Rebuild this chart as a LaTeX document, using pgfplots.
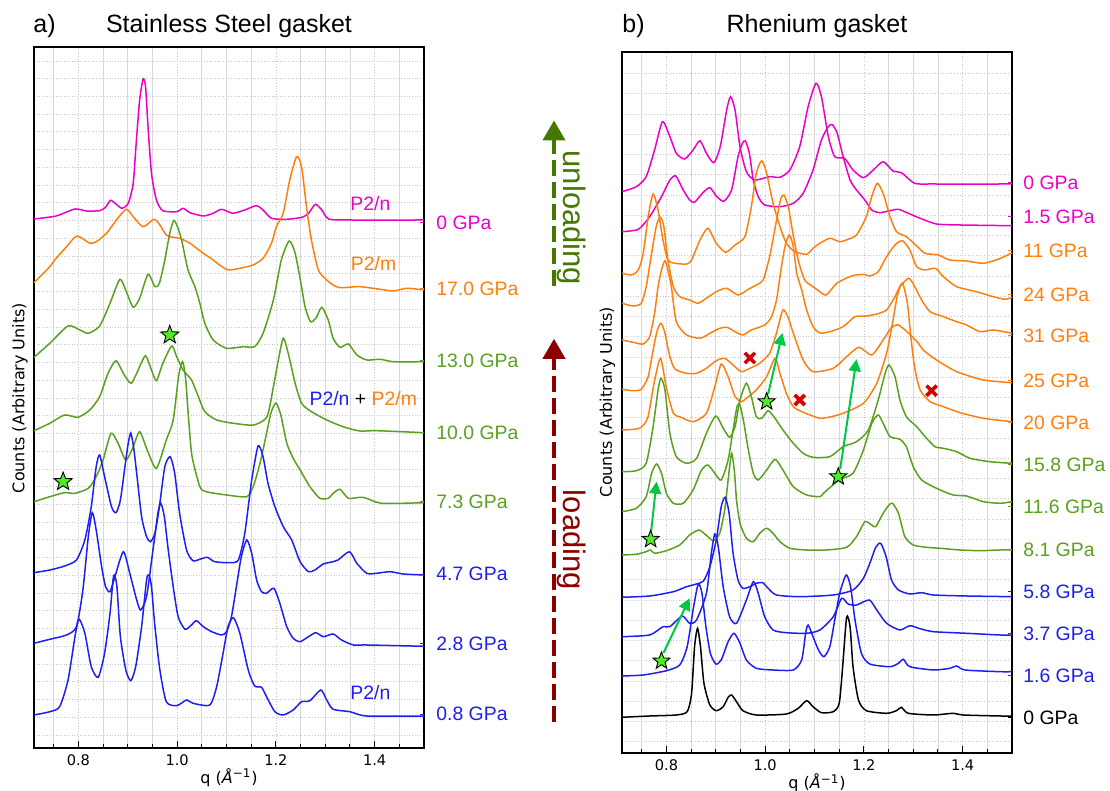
\documentclass[border=0pt]{standalone}
\usepackage{fontspec}
\setmainfont{Liberation Sans}
\newfontfamily\dejavu{DejaVu Sans}
\usepackage{pgfplots}
\pgfplotsset{compat=1.18}
\usetikzlibrary{arrows.meta}

\definecolor{mag}{RGB}{235,0,200}
\definecolor{org}{RGB}{255,127,14}
\definecolor{grn}{RGB}{90,160,30}
\definecolor{blu}{RGB}{30,30,240}
\definecolor{dgreen}{RGB}{70,120,0}
\definecolor{dred}{RGB}{139,0,0}
\definecolor{lime}{RGB}{80,235,40}
\definecolor{arrg}{RGB}{0,200,70}
\definecolor{xred}{RGB}{215,0,0}

\newcommand{\lab}{\fontsize{9.7}{11}\selectfont}
\newcommand{\ttl}{\fontsize{12.5}{14}\selectfont}
\newcommand{\axl}{\dejavu\fontsize{8}{9.5}\selectfont}

% filled five-pointed star marker
\pgfdeclareplotmark{fstar}{%
  \pgfpathmoveto{\pgfpointpolar{90}{\pgfplotmarksize}}%
  \pgfpathlineto{\pgfpointpolar{126}{0.42\pgfplotmarksize}}%
  \pgfpathlineto{\pgfpointpolar{162}{\pgfplotmarksize}}%
  \pgfpathlineto{\pgfpointpolar{198}{0.42\pgfplotmarksize}}%
  \pgfpathlineto{\pgfpointpolar{234}{\pgfplotmarksize}}%
  \pgfpathlineto{\pgfpointpolar{270}{0.42\pgfplotmarksize}}%
  \pgfpathlineto{\pgfpointpolar{306}{\pgfplotmarksize}}%
  \pgfpathlineto{\pgfpointpolar{342}{0.42\pgfplotmarksize}}%
  \pgfpathlineto{\pgfpointpolar{18}{\pgfplotmarksize}}%
  \pgfpathlineto{\pgfpointpolar{54}{0.42\pgfplotmarksize}}%
  \pgfpathclose
  \pgfusepathqfillstroke}

% pressure label with a short coloured tick on the right frame
\newcommand{\plab}[4]{%
  \draw[#1,line width=0.5pt] (axis cs:1.5,#2) -- ++(-2pt,0pt);
  \node[anchor=west,text=#1,font=\lab,inner sep=0pt,xshift=#4] at (axis cs:1.5,#2) {#3};}

\pgfplotsset{
  panel/.style={
    scale only axis, width=195pt, height=350.5pt, anchor=south west,
    xmin=0.71, xmax=1.5, ymin=0, ymax=701,
    xtick={0.8,1.0,1.2,1.4}, xticklabels={0.8,1.0,1.2,1.4},
    minor xtick={0.75,0.85,0.9,0.95,1.05,1.1,1.15,1.25,1.3,1.35,1.45},
    yticklabels={},
    tick align=inside, xtick pos=bottom, ytick pos=left,
    major tick length=3.5pt, minor tick length=2pt,
    ytick style={draw=none},
    grid=both,
    major grid style={gray!45, line width=0.35pt, densely dotted},
    minor grid style={gray!30, line width=0.35pt},
    axis line style={line width=1pt},
    tick style={black, line width=0.5pt},
    xticklabel style={font=\dejavu\fontsize{7.3}{8.5}\selectfont},
    clip=false,
  },
  cv/.style={line width=0.75pt, smooth, tension=0.4, mark=none},
  starm/.style={only marks, mark=fstar, mark size=4.8pt,
    mark options={fill=lime, draw=black, line width=0.45pt}},
  crossm/.style={only marks, mark=x, mark size=3.6pt,
    mark options={draw=xred, line width=1.8pt}},
  garrow/.style={arrg, line width=1pt, mark=none, -{Triangle[length=6pt,width=6pt]}},
}

\begin{document}
\begin{tikzpicture}
\useasboundingbox (0pt,0pt) rectangle (555pt,395.5pt);

% ---------------- panel a: stainless steel gasket ----------------
\begin{axis}[panel, at={(17pt,21.5pt)}, ytick={13,30.74,...,690}]
% 0 GPa (released)
\addplot[mag,cv] coordinates {(0.71,529) (0.755,532) (0.793,539) (0.816,537) (0.843,537.3) (0.855,540.7) (0.865,547.7) (0.876,544) (0.888,539.7) (0.901,544.7) (0.911,564.7) (0.917,604.7) (0.924,648) (0.931,669) (0.936,661.3) (0.941,621.3) (0.948,574.7) (0.958,548) (0.971,537.3) (0.999,536.3) (1.012,539.7) (1.026,535.3) (1.053,532) (1.073,534.7) (1.09,538.7) (1.113,534.7) (1.137,538) (1.16,542.3) (1.174,538) (1.191,529.7) (1.222,528.7) (1.253,530.7) (1.266,534.7) (1.28,543.7) (1.293,538) (1.307,529) (1.35,528) (1.5,528)};
% 17.0 GPa
\addplot[org,cv] coordinates {(0.71,465.3) (0.742,481.3) (0.752,488) (0.776,501.3) (0.797,512) (0.823,504.7) (0.836,506.3) (0.857,514.7) (0.877,528) (0.897,538.7) (0.911,531.3) (0.931,521.3) (0.953,528.7) (0.965,523) (0.978,513) (0.992,510.7) (1.005,509.7) (1.026,504.7) (1.053,494.7) (1.073,488) (1.086,483) (1.103,478) (1.127,479.7) (1.154,483) (1.174,489.7) (1.191,504.7) (1.201,521.3) (1.215,535) (1.228,568) (1.242,591.3) (1.252,581.3) (1.262,541.3) (1.272,508) (1.286,478) (1.303,468) (1.316,463) (1.33,460.3) (1.37,461.3) (1.411,458.7) (1.438,457) (1.465,459.7) (1.5,458)};
% 13.0 GPa
\addplot[grn,cv] coordinates {(0.71,390.7) (0.742,404.7) (0.779,422) (0.803,418) (0.82,414.7) (0.843,422) (0.864,444.7) (0.884,468.7) (0.897,456.3) (0.911,440.7) (0.924,449.7) (0.941,473.7) (0.955,461.3) (0.964,464.7) (0.975,488) (0.985,514.7) (0.993,527.5) (1.0,522) (1.009,508) (1.022,478) (1.036,461.3) (1.046,444.7) (1.056,424.7) (1.073,408) (1.1,399.7) (1.134,401.3) (1.157,401.3) (1.174,414.7) (1.195,448) (1.211,488) (1.227,507) (1.239,494.7) (1.252,461.3) (1.259,441.3) (1.27,426.3) (1.281,429.7) (1.293,440.7) (1.306,428) (1.316,409.7) (1.33,400.7) (1.347,404) (1.364,393) (1.384,388) (1.411,388.7) (1.438,386.3) (1.5,386.3)};
% 10.0 GPa
\addplot[grn,cv] coordinates {(0.71,317.3) (0.742,324.7) (0.772,333) (0.799,330.7) (0.823,338) (0.843,351.3) (0.86,374.7) (0.876,387.3) (0.891,374.7) (0.907,364.7) (0.924,381.3) (0.936,392.3) (0.948,378) (0.958,367.3) (0.971,384.7) (0.989,402) (0.999,391.3) (1.012,378) (1.029,368) (1.043,351.3) (1.056,336.3) (1.08,328) (1.114,324.7) (1.155,323) (1.182,331.3) (1.195,361.3) (1.205,388) (1.215,409.7) (1.225,394.7) (1.239,364.7) (1.252,344.7) (1.272,336.3) (1.303,328) (1.336,321.3) (1.37,317) (1.404,317.3) (1.5,315.3)};
% 7.3 GPa
\addplot[grn,cv] coordinates {(0.71,246.3) (0.742,251.3) (0.772,255.3) (0.793,254.7) (0.82,259.7) (0.836,271.3) (0.85,288) (0.866,314.7) (0.88,305) (0.896,288) (0.91,300) (0.924,316.3) (0.94,297) (0.958,279.7) (0.978,308) (0.992,328) (1.003,372) (1.011,386.3) (1.017,370) (1.023,330) (1.03,292) (1.046,261.3) (1.059,256.3) (1.1,253) (1.141,251.3) (1.154,261.3) (1.168,285) (1.18,312) (1.19,335) (1.2,345) (1.21,333) (1.222,305) (1.235,289.7) (1.249,278) (1.269,261.3) (1.289,249.7) (1.306,249.7) (1.316,254.7) (1.33,258.7) (1.347,249.7) (1.377,250.7) (1.414,244.7) (1.5,245.3)};
% 4.7 GPa
\addplot[blu,cv] coordinates {(0.71,175.3) (0.742,178) (0.772,182) (0.796,188) (0.813,208) (0.826,241.3) (0.836,281.3) (0.843,293) (0.853,271.3) (0.867,241.3) (0.876,235.3) (0.885,248) (0.896,288) (0.901,305) (0.906,315) (0.912,300) (0.918,274.7) (0.928,231.3) (0.938,211.3) (0.946,206.3) (0.955,214.7) (0.964,241.3) (0.975,281.3) (0.986,291.3) (0.995,274.7) (1.005,234.7) (1.019,198) (1.032,187.3) (1.046,188.7) (1.061,190.7) (1.076,186.3) (1.107,185.3) (1.124,188) (1.137,214.7) (1.151,268) (1.164,302) (1.174,291.3) (1.184,264.7) (1.198,241.3) (1.215,221.3) (1.232,208) (1.249,186.3) (1.266,176.3) (1.279,178) (1.296,184) (1.316,186.3) (1.326,188) (1.349,196.3) (1.364,184.7) (1.384,174.7) (1.404,174.7) (1.431,176.3) (1.458,174) (1.5,173)};
% 2.8 GPa
\addplot[blu,cv] coordinates {(0.71,104.7) (0.742,108.7) (0.776,113) (0.796,121.3) (0.809,158) (0.82,211.3) (0.828,235.3) (0.836,218) (0.847,181.3) (0.855,161.3) (0.864,156.3) (0.874,171.3) (0.891,196.3) (0.904,174.7) (0.918,148) (0.926,138) (0.938,151.3) (0.951,198) (0.961,234.7) (0.967,244.7) (0.974,231.3) (0.982,198) (0.992,161.3) (1.002,131.3) (1.016,118.7) (1.029,123) (1.039,127.3) (1.053,121.3) (1.07,116.3) (1.09,113) (1.1,116.3) (1.11,131.3) (1.12,161.3) (1.13,191.3) (1.141,208) (1.151,194.7) (1.161,168) (1.171,156.3) (1.181,154.7) (1.196,159.7) (1.208,144.7) (1.222,121.3) (1.235,109.7) (1.249,106.3) (1.266,111.3) (1.281,115.3) (1.296,111.3) (1.316,114) (1.333,108) (1.357,103) (1.384,103) (1.5,101.7)};
% 0.8 GPa
\addplot[blu,cv] coordinates {(0.71,33) (0.742,36.3) (0.762,41.3) (0.779,68) (0.793,111.3) (0.801,129) (0.813,114.7) (0.826,81.3) (0.84,70.7) (0.853,94.7) (0.864,134.7) (0.87,168) (0.873,173) (0.878,161.3) (0.885,111.3) (0.896,78) (0.906,67.3) (0.916,81.3) (0.928,121.3) (0.938,168) (0.943,173) (0.948,161.3) (0.955,121.3) (0.965,78) (0.978,46.3) (0.999,42.3) (1.019,48) (1.032,44.7) (1.066,43) (1.08,61.3) (1.093,94.7) (1.103,121.3) (1.114,130.3) (1.127,114.7) (1.144,78) (1.157,62) (1.171,60.7) (1.181,51.3) (1.198,36.3) (1.215,33) (1.235,38) (1.252,46.3) (1.269,47.3) (1.291,58) (1.303,48) (1.316,38.7) (1.35,36.3) (1.384,32) (1.5,32)};
% new reflections
\addplot[starm] coordinates {(0.985,413) (0.769,266.3)};
% phase labels
\node[text=mag,font=\lab] at (axis cs:1.3915,544) {P2/n};
\node[text=org,font=\lab] at (axis cs:1.398,484) {P2/m};
\node[font=\lab] at (axis cs:1.377,349) {\textcolor{blu}{P2/n} + \textcolor{org}{P2/m}};
\node[text=blu,font=\lab] at (axis cs:1.3915,55.5) {P2/n};
% pressures
\plab{mag}{525.6}{0 GPa}{6pt}
\plab{org}{459.4}{17.0 GPa}{6pt}
\plab{grn}{387}{13.0 GPa}{6pt}
\plab{grn}{315.3}{10.0 GPa}{6pt}
\plab{grn}{246}{7.3 GPa}{6pt}
\plab{blu}{173.7}{4.7 GPa}{6pt}
\plab{blu}{104}{2.8 GPa}{6pt}
\plab{blu}{33.7}{0.8 GPa}{6pt}
\end{axis}

% ---------------- panel b: rhenium gasket ----------------
\begin{axis}[panel, at={(311pt,19pt)}, ytick={11.3,31.55,...,681}]
% 0 GPa (released)
\addplot[mag,cv] coordinates {(0.71,561.3) (0.739,566.3) (0.759,576.3) (0.776,603) (0.792,631.3) (0.807,616.3) (0.82,599.7) (0.837,594) (0.854,603) (0.868,612.3) (0.881,599.7) (0.896,590.3) (0.909,606.3) (0.922,643) (0.93,656.3) (0.939,643) (0.949,606.3) (0.962,581.3) (0.979,573) (1.009,576.3) (1.03,575.7) (1.05,583) (1.07,606.3) (1.087,646.3) (1.103,669.7) (1.114,656.3) (1.128,616.3) (1.141,596.3) (1.161,594.7) (1.178,583) (1.199,575.3) (1.219,583) (1.239,591.3) (1.259,582) (1.276,580.3) (1.303,569.7) (1.341,569) (1.5,569)};
% 1.5 GPa
\addplot[mag,cv] coordinates {(0.71,521.3) (0.743,523.7) (0.766,536.3) (0.79,556.3) (0.807,573) (0.819,577) (0.834,563) (0.847,553) (0.857,550.7) (0.874,560.3) (0.888,565.3) (0.901,557) (0.916,551.7) (0.932,563) (0.945,596.3) (0.954,609.7) (0.96,612) (0.968,599.7) (0.976,573) (0.986,556.3) (0.999,548) (1.03,546.3) (1.057,549.7) (1.077,559.7) (1.097,583) (1.114,613) (1.128,626.3) (1.136,628.3) (1.146,619.7) (1.158,596.3) (1.172,573) (1.185,563) (1.202,553) (1.216,543) (1.232,540.3) (1.253,542.3) (1.27,543.7) (1.29,539.7) (1.314,534.7) (1.347,529) (1.395,528) (1.5,527.3)};
% 11 GPa
\addplot[org,cv] coordinates {(0.71,479.7) (0.729,478) (0.743,483) (0.753,499.7) (0.763,536.3) (0.773,559) (0.783,543) (0.793,513) (0.803,493) (0.817,489.7) (0.841,489) (0.851,493) (0.868,513) (0.884,524.7) (0.901,509.7) (0.92,500.7) (0.939,508) (0.959,516.3) (0.972,546.3) (0.982,579.7) (0.993,592.3) (1.003,579.7) (1.016,549.7) (1.03,526.3) (1.043,509.7) (1.06,501.3) (1.084,498.7) (1.097,504.7) (1.111,509.7) (1.131,514.7) (1.151,511.3) (1.168,513.7) (1.185,518) (1.205,536.3) (1.215,555) (1.227,569.7) (1.239,559.7) (1.253,536.3) (1.266,521.3) (1.286,516.3) (1.307,507) (1.324,499.7) (1.351,498) (1.374,493) (1.408,492) (1.442,489.7) (1.472,493.7) (1.5,500)};
% 24 GPa
\addplot[org,cv] coordinates {(0.71,449.7) (0.732,447) (0.749,449.7) (0.759,466.3) (0.77,499.7) (0.78,528) (0.788,535.7) (0.795,525.7) (0.803,493) (0.814,466.3) (0.827,456.3) (0.847,453) (0.864,449.7) (0.881,454.7) (0.901,461.3) (0.922,464.7) (0.945,458) (0.966,463.7) (0.982,468) (0.996,473) (1.009,496.3) (1.022,529.7) (1.031,553) (1.038,558) (1.047,546.3) (1.055,523) (1.067,493) (1.08,473) (1.097,466.3) (1.111,461.3) (1.124,458) (1.145,469.7) (1.175,477) (1.199,478.7) (1.212,477) (1.229,481.3) (1.246,496.3) (1.263,508) (1.278,512.3) (1.293,503) (1.307,486.3) (1.324,483) (1.345,484.7) (1.361,476.3) (1.388,466.3) (1.428,461.3) (1.462,456.3) (1.486,453.7) (1.5,455.7)};
% 31 GPa
\addplot[org,cv] coordinates {(0.71,413) (0.736,410.3) (0.753,409) (0.766,416.3) (0.776,439.7) (0.783,466.3) (0.79,483) (0.797,492.3) (0.803,483) (0.81,466.3) (0.82,431.3) (0.841,418) (0.868,414.7) (0.888,419.7) (0.908,424.7) (0.923,425.7) (0.939,421.3) (0.955,418) (0.972,423) (0.999,428) (1.013,436.3) (1.023,453) (1.031,479.7) (1.04,506.3) (1.049,518) (1.057,506.3) (1.064,479.7) (1.074,463) (1.084,443) (1.097,426.3) (1.111,420) (1.131,421.3) (1.158,426.3) (1.182,436.3) (1.205,437) (1.226,439) (1.246,443) (1.263,456.3) (1.273,466.3) (1.291,474.7) (1.303,466.3) (1.317,453) (1.334,441.3) (1.361,436.3) (1.388,431.3) (1.408,428) (1.435,421.3) (1.462,423) (1.5,419.7)};
% 25 GPa
\addplot[org,cv] coordinates {(0.71,363.7) (0.732,362.3) (0.749,363.7) (0.763,376.3) (0.772,400) (0.781,422) (0.789,429.7) (0.797,420) (0.806,398) (0.817,384) (0.841,379.7) (0.861,379.7) (0.881,384.7) (0.901,392.3) (0.918,394.7) (0.935,388) (0.952,381.3) (0.969,384.7) (0.989,389.7) (1.009,399.7) (1.023,420) (1.036,443) (1.047,435) (1.057,419.7) (1.077,393) (1.097,381.3) (1.138,384.7) (1.165,396.3) (1.19,405.7) (1.216,398) (1.239,413) (1.255,425) (1.27,428) (1.29,420) (1.31,410) (1.32,403) (1.347,393) (1.388,381.3) (1.442,373) (1.5,370.3)};
% 20 GPa
\addplot[org,cv] coordinates {(0.71,323) (0.745,324.7) (0.762,335) (0.775,370) (0.788,394.7) (0.8,365) (0.814,339.7) (0.827,336.3) (0.854,331.3) (0.881,339.7) (0.898,366.3) (0.911,389) (0.925,376.3) (0.939,356.3) (0.952,351.3) (0.962,354.7) (0.982,363) (1.003,376.3) (1.02,394.7) (1.03,379.7) (1.043,359.7) (1.057,346.3) (1.074,341.3) (1.091,338) (1.111,334.7) (1.131,336) (1.158,339.7) (1.199,349.7) (1.226,369.7) (1.246,399.7) (1.258,430) (1.268,458) (1.278,470) (1.288,450) (1.296,412) (1.303,385) (1.314,363) (1.334,351.3) (1.361,346.3) (1.395,340.3) (1.442,334.7) (1.5,331.3)};
% 15.8 GPa
\addplot[grn,cv] coordinates {(0.71,281.3) (0.739,282.3) (0.759,289.7) (0.773,326.3) (0.783,363) (0.789,374.7) (0.797,363) (0.807,319.7) (0.82,296.3) (0.841,289.7) (0.861,294.7) (0.881,319.7) (0.9,337) (0.915,324.7) (0.928,315.7) (0.939,326.3) (0.949,353) (0.962,369.7) (0.972,356.3) (0.982,336.3) (0.993,334.7) (1.006,342.3) (1.02,334.7) (1.036,323) (1.057,309.7) (1.077,299.7) (1.097,295.7) (1.131,296.3) (1.158,306.3) (1.185,311.3) (1.209,323) (1.229,353) (1.243,379.7) (1.251,388) (1.263,376.3) (1.273,353) (1.286,336.3) (1.307,326.3) (1.324,316.3) (1.344,306.3) (1.361,304.7) (1.388,301.3) (1.415,294.7) (1.455,291.3) (1.5,289.7)};
% 11.6 GPa
\addplot[grn,cv] coordinates {(0.71,241.3) (0.739,244.7) (0.759,256.3) (0.77,279.7) (0.78,289) (0.79,279.7) (0.8,259.7) (0.814,249.7) (0.834,249.7) (0.854,263) (0.871,283) (0.884,288) (0.898,279.7) (0.911,273) (0.925,293) (0.935,323) (0.943,346.3) (0.949,348) (0.957,329.7) (0.966,303) (0.976,279.7) (0.986,273) (1.003,283) (1.02,293.7) (1.036,283) (1.057,266.3) (1.084,258) (1.111,256.3) (1.118,259.7) (1.15,273) (1.178,279.7) (1.199,303) (1.216,329.7) (1.229,338) (1.239,329.7) (1.253,316.3) (1.273,313.7) (1.286,306.3) (1.3,286.3) (1.317,273) (1.347,264.7) (1.381,258) (1.408,257) (1.442,251.3) (1.476,249.7) (1.5,251.3)};
% 8.1 GPa
\addplot[grn,cv] coordinates {(0.71,198) (0.739,198.7) (0.759,201.3) (0.768,203) (0.776,199.7) (0.8,202.3) (0.827,208) (0.847,218) (0.866,223) (0.88,218) (0.895,212.3) (0.908,219.7) (0.918,243) (0.925,273) (0.932,299.7) (0.938,280) (0.942,253) (0.949,229.7) (0.962,214.7) (0.976,211.3) (0.989,219.7) (1.003,224.7) (1.016,219.7) (1.03,211.3) (1.05,204.7) (1.084,203) (1.124,203) (1.165,205.7) (1.185,216.3) (1.202,231.3) (1.216,228) (1.224,226.3) (1.239,239.7) (1.251,248) (1.258,249.7) (1.27,239.7) (1.283,216.3) (1.3,208) (1.327,205.7) (1.354,204.7) (1.395,203) (1.435,202.3) (1.476,203) (1.5,203)};
% 5.8 GPa
\addplot[blu,cv] coordinates {(0.71,155.7) (0.766,157) (0.814,161.3) (0.841,166.3) (0.861,169) (0.875,172) (0.888,186.3) (0.901,213) (0.911,246.3) (0.919,255.7) (0.927,239.7) (0.935,199.7) (0.945,173) (0.955,164.7) (0.969,166.3) (0.982,169.7) (0.995,170.3) (1.006,164.7) (1.023,158) (1.07,156.3) (1.138,158) (1.178,163) (1.199,174.7) (1.212,189.7) (1.224,205.7) (1.234,209.7) (1.245,196.3) (1.256,173) (1.27,163) (1.293,159) (1.317,160.3) (1.341,158) (1.408,157) (1.5,156.3)};
% 3.7 GPa
\addplot[blu,cv] coordinates {(0.71,116.3) (0.766,118) (0.793,126.3) (0.807,126.3) (0.832,137) (0.847,129.7) (0.861,133) (0.881,159.7) (0.891,199.7) (0.898,219) (0.905,206.3) (0.915,166.3) (0.928,136.3) (0.942,129.7) (0.962,153) (0.976,171.3) (0.986,159.7) (0.999,136.3) (1.016,123) (1.043,120.3) (1.084,119.7) (1.111,123) (1.138,136.3) (1.155,154.7) (1.168,149) (1.185,148) (1.211,153) (1.226,143) (1.246,129.7) (1.273,123) (1.293,127.3) (1.314,124.3) (1.341,121.3) (1.408,119.7) (1.476,118) (1.5,118)};
% 1.6 GPa
\addplot[blu,cv] coordinates {(0.71,77) (0.753,78) (0.8,82.3) (0.827,88) (0.842,106.3) (0.854,143) (0.862,164.7) (0.866,169) (0.872,159.7) (0.88,126.3) (0.889,99.7) (0.9,89) (0.911,93) (0.925,111.3) (0.937,119.7) (0.949,109.7) (0.962,93) (0.982,84.7) (1.016,83) (1.057,83) (1.074,93) (1.082,119.7) (1.087,128) (1.097,116.3) (1.108,103) (1.119,96.3) (1.131,106.3) (1.141,133) (1.151,159.7) (1.164,178) (1.173,166.3) (1.182,133) (1.195,99.7) (1.212,89) (1.253,86.3) (1.27,89.7) (1.28,93.7) (1.293,86.3) (1.341,83) (1.374,84.7) (1.388,87) (1.405,83) (1.476,81.3) (1.5,81.3)};
% 0 GPa (reference)
\addplot[black,cv] coordinates {(0.71,35.7) (0.766,37) (0.82,38) (0.842,41.3) (0.851,59.7) (0.857,106.3) (0.863,124.7) (0.869,106.3) (0.876,69.7) (0.888,48) (0.901,42.3) (0.915,46.3) (0.925,55.7) (0.932,58) (0.942,51.3) (0.955,42.3) (0.982,38) (1.043,39) (1.067,44.7) (1.084,52.3) (1.097,46.3) (1.114,40.3) (1.138,41.3) (1.15,49.7) (1.157,86.3) (1.165,135.7) (1.172,126.3) (1.178,86.3) (1.189,53) (1.205,42.3) (1.246,39.7) (1.266,42.3) (1.276,45.7) (1.29,39.7) (1.341,38) (1.381,39.7) (1.401,38) (1.476,37) (1.5,37)};
% peak shifts
\addplot[garrow] coordinates {(1.006,359) (1.035,420)};
\addplot[garrow] coordinates {(1.152,284) (1.185,393.7)};
\addplot[garrow] coordinates {(0.769,221.5) (0.78,271.3)};
\addplot[garrow] coordinates {(0.794,100) (0.847,154.7)};
\addplot[starm, mark size=4.5pt] coordinates {(1.003,351.3) (1.148,276.3) (0.768,213.7) (0.79,92)};
\addplot[crossm] coordinates {(0.969,395) (1.07,353) (1.337,362.3)};
% pressures
\plab{mag}{570}{0 GPa}{5.5pt}
\plab{mag}{536}{1.5 GPa}{5.5pt}
\plab{org}{502}{11 GPa}{5.5pt}
\plab{org}{458}{24 GPa}{5.5pt}
\plab{org}{417}{31 GPa}{5.5pt}
\plab{org}{372}{25 GPa}{5.5pt}
\plab{org}{330}{20 GPa}{5.5pt}
\plab{grn}{288}{15.8 GPa}{5.5pt}
\plab{grn}{246}{11.6 GPa}{5.5pt}
\plab{grn}{203}{8.1 GPa}{5.5pt}
\plab{blu}{161}{5.8 GPa}{5.5pt}
\plab{blu}{119}{3.7 GPa}{5.5pt}
\plab{blu}{77}{1.6 GPa}{5.5pt}
\plab{black}{35}{0 GPa}{5.5pt}
\end{axis}

% titles
\node[anchor=base west,inner sep=0pt,font=\ttl] at (16.5pt,379.35pt) {a)};
\node[anchor=base,inner sep=0pt,font=\ttl] at (114.5pt,379.35pt) {Stainless Steel gasket};
\node[anchor=base west,inner sep=0pt,font=\ttl] at (311pt,379.35pt) {b)};
\node[anchor=base,inner sep=0pt,font=\ttl] at (408.5pt,379.35pt) {Rhenium gasket};
% axis labels
\node[anchor=base,inner sep=0pt,font=\axl] at (114.5pt,3.85pt) {q (\textit{Å}\textsuperscript{−1})};
\node[anchor=base,inner sep=0pt,font=\axl] at (408.5pt,1.15pt) {q (\textit{Å}\textsuperscript{−1})};
\node[rotate=90,inner sep=0pt,font=\axl] at (10pt,196.5pt) {Counts (Arbitrary Units)};
\node[rotate=90,inner sep=0pt,font=\axl] at (303.75pt,194.5pt) {Counts (Arbitrary Units)};
% loading / unloading direction
\draw[dgreen, line width=2pt, dash pattern=on 8pt off 3pt, -{Triangle[length=10pt,width=11pt]}] (277pt,252.65pt) -- (277pt,335.3pt);
\draw[dred, line width=2pt, dash pattern=on 8pt off 3pt, -{Triangle[length=10pt,width=11pt]}] (277pt,34.3pt) -- (277pt,226.1pt);
\node[rotate=-90,text=dgreen,inner sep=0pt,font=\fontsize{15.5}{17}\selectfont] at (286pt,286.5pt) {unloading};
\node[rotate=-90,text=dred,inner sep=0pt,font=\fontsize{15.5}{17}\selectfont] at (286pt,125.5pt) {loading};
\end{tikzpicture}
\end{document}
